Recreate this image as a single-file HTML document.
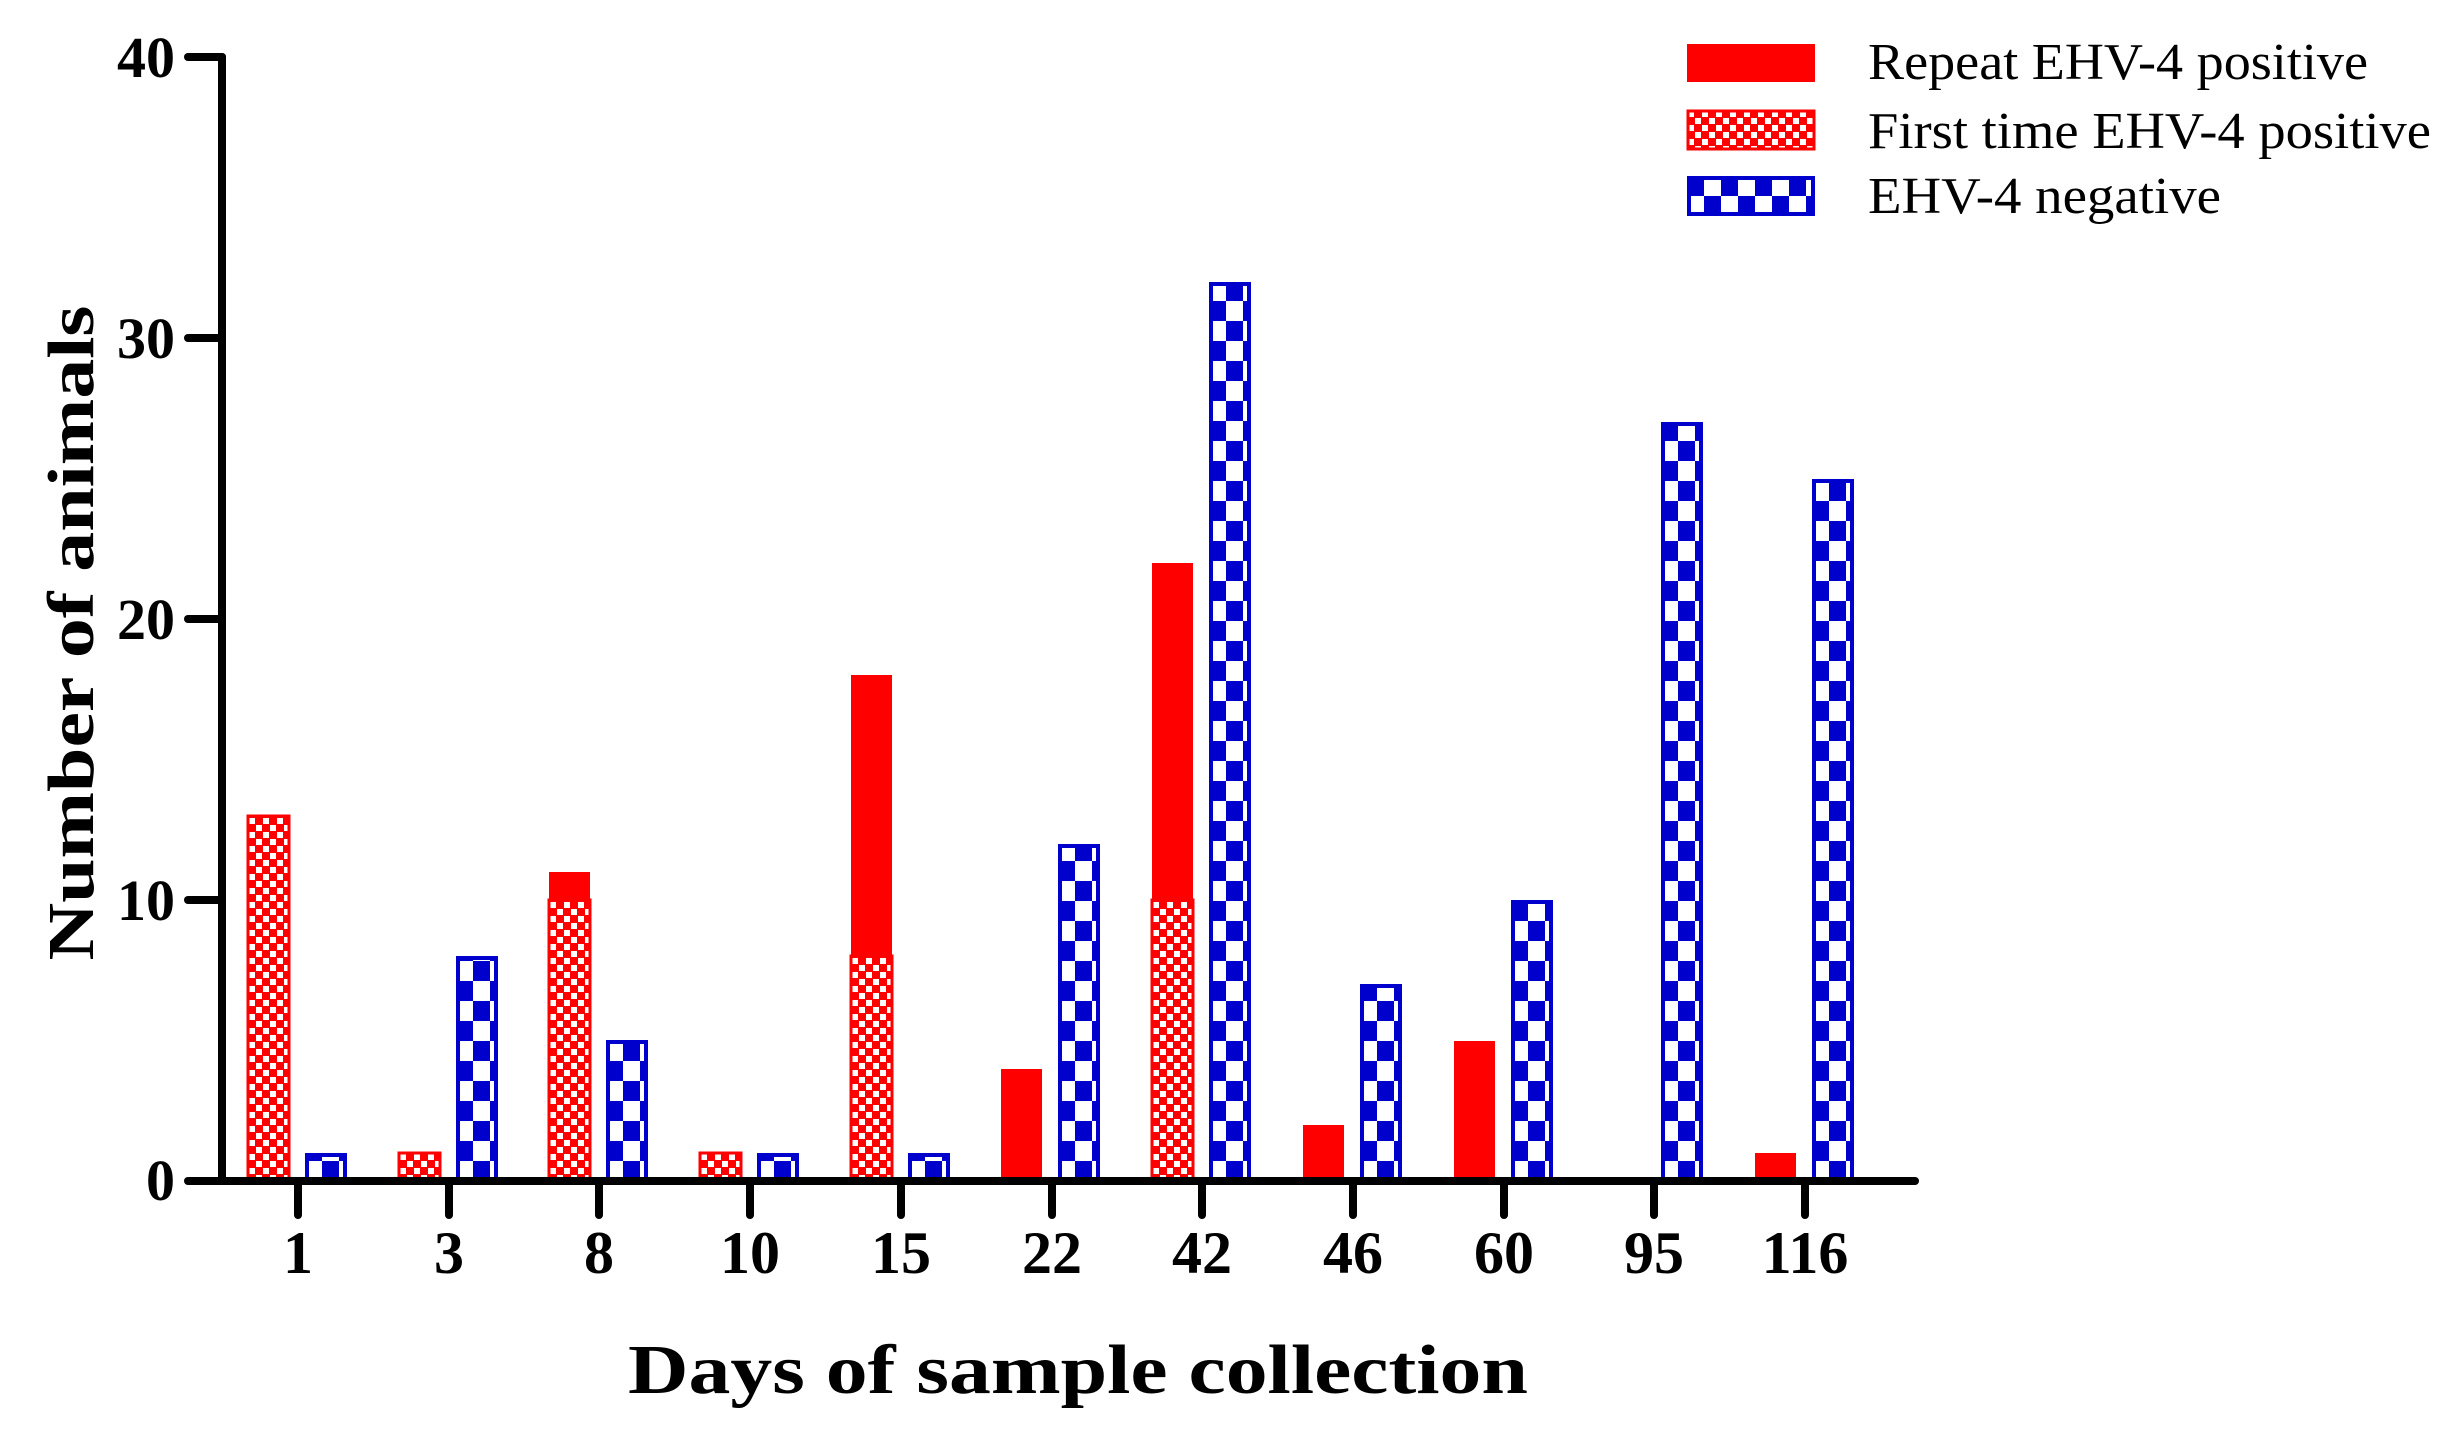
<!DOCTYPE html>
<html><head><meta charset="utf-8"><style>html,body{margin:0;padding:0;background:#fff}svg{display:block}</style></head>
<body>
<svg width="2456" height="1440" viewBox="0 0 2456 1440" xmlns="http://www.w3.org/2000/svg" font-family="'Liberation Serif', serif">
<defs>
<pattern id="rp" patternUnits="userSpaceOnUse" width="14" height="14">
<rect width="14" height="14" fill="#ff0000"/>
<rect x="1" y="1" width="6" height="6" fill="#fff"/>
<rect x="8" y="8" width="6" height="6" fill="#fff"/>
</pattern>
<pattern id="bp" patternUnits="userSpaceOnUse" width="34" height="40">
<rect width="34" height="40" fill="#fff"/>
<rect x="0" y="0" width="17" height="20" fill="#0000cc"/>
<rect x="17" y="20" width="17" height="20" fill="#0000cc"/>
</pattern>
</defs>

<g transform="translate(248,1181)"><rect x="0" y="-365" width="41" height="365" fill="url(#rp)" stroke="#ff0000" stroke-width="3"/></g>
<g transform="translate(305,1181)"><rect x="2" y="-26" width="38" height="26" fill="url(#bp)" stroke="#0000cc" stroke-width="4"/></g>
<g transform="translate(399,1181)"><rect x="0" y="-28" width="41" height="28" fill="url(#rp)" stroke="#ff0000" stroke-width="3"/></g>
<g transform="translate(456,1181)"><rect x="2" y="-223" width="38" height="223" fill="url(#bp)" stroke="#0000cc" stroke-width="4"/></g>
<g transform="translate(549,1181)"><rect x="0" y="-309" width="41" height="28" fill="#ff0000"/><rect x="0" y="-281" width="41" height="281" fill="url(#rp)" stroke="#ff0000" stroke-width="3"/></g>
<g transform="translate(606,1181)"><rect x="2" y="-139" width="38" height="139" fill="url(#bp)" stroke="#0000cc" stroke-width="4"/></g>
<g transform="translate(700,1181)"><rect x="0" y="-28" width="41" height="28" fill="url(#rp)" stroke="#ff0000" stroke-width="3"/></g>
<g transform="translate(757,1181)"><rect x="2" y="-26" width="38" height="26" fill="url(#bp)" stroke="#0000cc" stroke-width="4"/></g>
<g transform="translate(851,1181)"><rect x="0" y="-506" width="41" height="282" fill="#ff0000"/><rect x="0" y="-225" width="41" height="225" fill="url(#rp)" stroke="#ff0000" stroke-width="3"/></g>
<g transform="translate(908,1181)"><rect x="2" y="-26" width="38" height="26" fill="url(#bp)" stroke="#0000cc" stroke-width="4"/></g>
<g transform="translate(1001,1181)"><rect x="0" y="-112" width="41" height="112" fill="#ff0000"/></g>
<g transform="translate(1058,1181)"><rect x="2" y="-335" width="38" height="335" fill="url(#bp)" stroke="#0000cc" stroke-width="4"/></g>
<g transform="translate(1152,1181)"><rect x="0" y="-618" width="41" height="338" fill="#ff0000"/><rect x="0" y="-281" width="41" height="281" fill="url(#rp)" stroke="#ff0000" stroke-width="3"/></g>
<g transform="translate(1209,1181)"><rect x="2" y="-897" width="38" height="897" fill="url(#bp)" stroke="#0000cc" stroke-width="4"/></g>
<g transform="translate(1303,1181)"><rect x="0" y="-56" width="41" height="56" fill="#ff0000"/></g>
<g transform="translate(1360,1181)"><rect x="2" y="-195" width="38" height="195" fill="url(#bp)" stroke="#0000cc" stroke-width="4"/></g>
<g transform="translate(1454,1181)"><rect x="0" y="-140" width="41" height="140" fill="#ff0000"/></g>
<g transform="translate(1511,1181)"><rect x="2" y="-279" width="38" height="279" fill="url(#bp)" stroke="#0000cc" stroke-width="4"/></g>
<g transform="translate(1661,1181)"><rect x="2" y="-757" width="38" height="757" fill="url(#bp)" stroke="#0000cc" stroke-width="4"/></g>
<g transform="translate(1755,1181)"><rect x="0" y="-28" width="41" height="28" fill="#ff0000"/></g>
<g transform="translate(1812,1181)"><rect x="2" y="-700" width="38" height="700" fill="url(#bp)" stroke="#0000cc" stroke-width="4"/></g>

<g stroke="#000" stroke-width="8" stroke-linecap="round" fill="none">
<line x1="222" y1="57" x2="222" y2="1181"/>
<line x1="188" y1="1181" x2="1915" y2="1181"/>
<line x1="188" y1="57" x2="222" y2="57"/>
<line x1="188" y1="338" x2="222" y2="338"/>
<line x1="188" y1="619" x2="222" y2="619"/>
<line x1="188" y1="900" x2="222" y2="900"/>
<line x1="298" y1="1181" x2="298" y2="1215"/>
<line x1="449" y1="1181" x2="449" y2="1215"/>
<line x1="599" y1="1181" x2="599" y2="1215"/>
<line x1="750" y1="1181" x2="750" y2="1215"/>
<line x1="901" y1="1181" x2="901" y2="1215"/>
<line x1="1052" y1="1181" x2="1052" y2="1215"/>
<line x1="1202" y1="1181" x2="1202" y2="1215"/>
<line x1="1353" y1="1181" x2="1353" y2="1215"/>
<line x1="1504" y1="1181" x2="1504" y2="1215"/>
<line x1="1654" y1="1181" x2="1654" y2="1215"/>
<line x1="1805" y1="1181" x2="1805" y2="1215"/>
</g>

<g font-size="58" font-weight="bold" text-anchor="end" fill="#000">
<text x="175" y="77">40</text>
<text x="175" y="358">30</text>
<text x="175" y="639">20</text>
<text x="175" y="920">10</text>
<text x="175" y="1200">0</text>
</g>
<g font-size="60" font-weight="bold" text-anchor="middle" fill="#000">
<text x="298" y="1273">1</text>
<text x="449" y="1273">3</text>
<text x="599" y="1273">8</text>
<text x="750" y="1273">10</text>
<text x="901" y="1273">15</text>
<text x="1052" y="1273">22</text>
<text x="1202" y="1273">42</text>
<text x="1353" y="1273">46</text>
<text x="1504" y="1273">60</text>
<text x="1654" y="1273">95</text>
<text x="1805" y="1273">116</text>
</g>

<text x="1078" y="1393" font-size="70" font-weight="bold" text-anchor="middle" textLength="900" lengthAdjust="spacingAndGlyphs">Days of sample collection</text>
<text transform="translate(93,633) rotate(-90)" font-size="66" font-weight="bold" text-anchor="middle" textLength="655" lengthAdjust="spacingAndGlyphs">Number of animals</text>

<rect x="1687" y="44" width="128" height="38" fill="#ff0000"/>
<g transform="translate(1687,110)"><rect x="1" y="1" width="126" height="38" fill="url(#rp)" stroke="#ff0000" stroke-width="3"/></g>
<g transform="translate(1687,176)"><rect x="2" y="2" width="124" height="36" fill="url(#bp)" stroke="#0000cc" stroke-width="4"/></g>
<g font-size="52" fill="#000">
<text x="1868" y="79" textLength="500" lengthAdjust="spacingAndGlyphs">Repeat EHV-4 positive</text>
<text x="1868" y="148" textLength="563" lengthAdjust="spacingAndGlyphs">First time EHV-4 positive</text>
<text x="1868" y="213" textLength="353" lengthAdjust="spacingAndGlyphs">EHV-4 negative</text>
</g>
</svg>
</body></html>
